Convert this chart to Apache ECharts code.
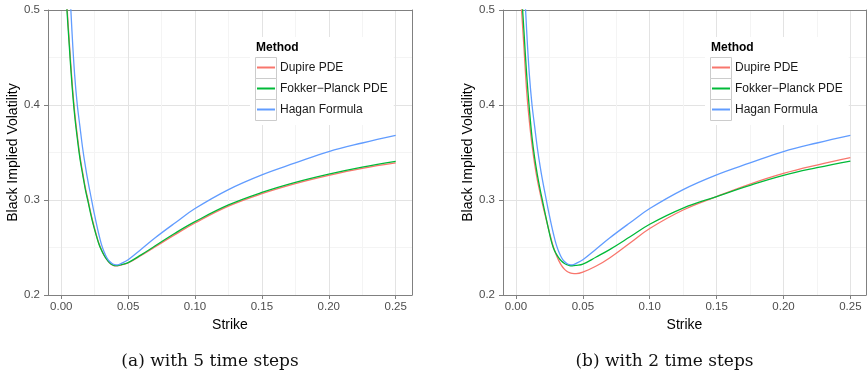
<!DOCTYPE html>
<html><head><meta charset="utf-8">
<script src="https://cdn.jsdelivr.net/npm/echarts@6/dist/echarts.min.js"></script>
<style>html,body{margin:0;padding:0;background:#fff}#c{width:868px;height:377px}</style>
</head><body><div id="c"></div>
<script>
// ---- data ----
const strikes = [0.002, 0.004, 0.006, 0.008, 0.010, 0.012, 0.014, 0.016, 0.018, 0.020, 0.022, 0.024, 0.026, 0.028, 0.030, 0.032, 0.034, 0.036, 0.038, 0.040, 0.042, 0.045, 0.050, 0.060, 0.070, 0.085, 0.100, 0.125, 0.150, 0.175, 0.200, 0.225, 0.250];
const dupire5 = [0.560, 0.511, 0.467, 0.426, 0.393, 0.368, 0.346, 0.329, 0.313, 0.300, 0.287, 0.275, 0.2645, 0.255, 0.2478, 0.2420, 0.2375, 0.2340, 0.2318, 0.2308, 0.2308, 0.2317, 0.2337, 0.2418, 0.2505, 0.2635, 0.2758, 0.2935, 0.3066, 0.3172, 0.3259, 0.3333, 0.3390];
const fokker5 = [0.555, 0.506, 0.4625, 0.422, 0.3895, 0.365, 0.3435, 0.327, 0.3113, 0.2985, 0.2855, 0.2738, 0.2635, 0.2543, 0.2473, 0.2418, 0.2376, 0.2342, 0.2320, 0.2310, 0.2310, 0.2320, 0.2341, 0.2425, 0.2515, 0.2650, 0.2772, 0.2948, 0.3080, 0.3186, 0.3273, 0.3347, 0.3407];
const hagan = [0.680, 0.600, 0.535, 0.478, 0.432, 0.400, 0.377, 0.3545, 0.336, 0.3195, 0.305, 0.2905, 0.2770, 0.2645, 0.2535, 0.2455, 0.2395, 0.2355, 0.2332, 0.2320, 0.2318, 0.2333, 0.2372, 0.2485, 0.2600, 0.2758, 0.2910, 0.3110, 0.3265, 0.3390, 0.3510, 0.3600, 0.3680];
const dupire2 = [0.550, 0.504, 0.460, 0.4145, 0.383, 0.358, 0.3375, 0.3210, 0.3075, 0.2945, 0.283, 0.2715, 0.2605, 0.2505, 0.2425, 0.2362, 0.2312, 0.2275, 0.2250, 0.2235, 0.2227, 0.2224, 0.2240, 0.2305, 0.2390, 0.2545, 0.2700, 0.2895, 0.3036, 0.3168, 0.3280, 0.3368, 0.3445];
const fokker2 = [0.600, 0.525, 0.477, 0.432, 0.396, 0.366, 0.344, 0.3265, 0.3115, 0.298, 0.2845, 0.2715, 0.2590, 0.2495, 0.2435, 0.2390, 0.2357, 0.2334, 0.2319, 0.2310, 0.2308, 0.2312, 0.2325, 0.2400, 0.2478, 0.2610, 0.2745, 0.2915, 0.3036, 0.3155, 0.3260, 0.3340, 0.3410];
const methods = ['Dupire PDE', 'Fokker\u2212Planck PDE', 'Hagan Formula'];
const xTicks = [0, 0.05, 0.10, 0.15, 0.20, 0.25];
const xMinorTicks = [0.025, 0.075, 0.125, 0.175, 0.225];
const yTicks = [0.2, 0.3, 0.4, 0.5];
const captions = ['(a) with 5 time steps', '(b) with 2 time steps'];
const panelData = [[dupire5, fokker5, hagan], [dupire2, fokker2, hagan]];

// ---- styling ----
const colors = ['#F8766D', '#00BA38', '#619CFF'];
const SANS = '"Liberation Sans", Arial, sans-serif';
const BORDER = '#808080', MAJOR = '#e3e3e3', MINOR = '#f4f4f4';
const panels = [
  {left: 48, width: 364, xmin: -0.0099, xmax: 0.2622, legendLeft: 250, capX: 210},
  {left: 503, width: 363, xmin: -0.0097, xmax: 0.2617, legendLeft: 705, capX: 664.5}
];

const grid = [], xAxis = [], yAxis = [], series = [], legend = [], graphic = [];
panels.forEach((p, i) => {
  grid.push({left: p.left, top: 10, width: p.width, height: 285, show: false});
  // minor x axis (top border + minor grid)
  xAxis.push({
    type: 'value', gridIndex: i, position: 'top', min: p.xmin, max: p.xmax,
    minInterval: 0.025, maxInterval: 0.025,
    axisLine: {show: true, lineStyle: {color: BORDER, width: 1}},
    axisTick: {show: false, customValues: xMinorTicks},
    axisLabel: {show: false},
    splitLine: {show: true, lineStyle: {color: MINOR, width: 1}}
  });
  // major x axis
  xAxis.push({
    type: 'value', gridIndex: i, position: 'bottom', min: p.xmin, max: p.xmax,
    minInterval: 0.05, maxInterval: 0.05,
    axisLine: {show: true, onZero: false, lineStyle: {color: BORDER, width: 1}},
    axisTick: {show: true, length: 4, customValues: xTicks, lineStyle: {color: BORDER}},
    axisLabel: {show: true, customValues: xTicks, margin: 6, color: '#4d4d4d', fontSize: 11.5, fontFamily: SANS,
      formatter: v => v.toFixed(2)},
    splitLine: {show: true, lineStyle: {color: MAJOR, width: 1}},
    name: 'Strike', nameLocation: 'middle', nameGap: 20,
    nameTextStyle: {color: '#000', fontSize: 14, fontFamily: SANS}
  });
  yAxis.push({
    type: 'value', gridIndex: i, position: 'left', min: yTicks[0], max: yTicks[yTicks.length - 1], interval: 0.1,
    axisLine: {show: true, onZero: false, lineStyle: {color: BORDER, width: 1}},
    axisTick: {show: true, length: 4, lineStyle: {color: BORDER}},
    axisLabel: {show: true, margin: 8, color: '#4d4d4d', fontSize: 11.5, fontFamily: SANS, formatter: v => v.toFixed(1)},
    splitLine: {show: true, lineStyle: {color: MAJOR, width: 1}},
    minorTick: {show: false, splitNumber: 2},
    minorSplitLine: {show: true, lineStyle: {color: MINOR, width: 1}},
    name: 'Black Implied Volatility', nameLocation: 'middle', nameGap: 26, nameRotate: 90,
    nameTextStyle: {color: '#000', fontSize: 14, fontFamily: SANS}
  });
  yAxis.push({
    type: 'value', gridIndex: i, position: 'right', min: yTicks[0], max: yTicks[yTicks.length - 1], interval: 0.1,
    axisLine: {show: true, onZero: false, lineStyle: {color: BORDER, width: 1}},
    axisTick: {show: false}, axisLabel: {show: false}, splitLine: {show: false}
  });
  panelData[i].forEach((vals, k) => {
    series.push({
      type: 'line', name: methods[k], xAxisIndex: 2 * i + 1, yAxisIndex: 2 * i,
      data: strikes.map((s, j) => [s, vals[j]]),
      showSymbol: false, symbol: 'none', smooth: 0.4, clip: true,
      lineStyle: {width: 1.3, color: colors[k]}, itemStyle: {color: colors[k]},
      emphasis: {disabled: true}, z: 2 + k * 0.01
    });
  });
  legend.push({
    left: p.legendLeft, top: 37, orient: 'vertical', padding: [20, 6, 5, 7],
    backgroundColor: '#ffffff', itemWidth: 18, itemHeight: 2, icon: 'rect', itemGap: 0,
    selectedMode: false, data: methods, z: 4,
    textStyle: {fontSize: 12, lineHeight: 21, color: '#1a1a1a', fontFamily: SANS}
  });
  const off = p.legendLeft - 250;
  methods.forEach((m, k) => {
    graphic.push({type: 'rect', z: 10, silent: true,
      shape: {x: 255.5 + off, y: 57.5 + 21 * k, width: 21, height: 21},
      style: {fill: 'none', stroke: '#cccccc', lineWidth: 1}});
  });
  graphic.push({type: 'text', z: 10, silent: true, x: 256 + off, y: 48,
    style: {text: 'Method', fontSize: 12, fontWeight: 'bold', fontFamily: SANS, fill: '#000', verticalAlign: 'middle'}});
  graphic.push({type: 'text', z: 10, silent: true, x: p.capX, y: 362,
    style: {text: captions[i], fontSize: 17, fontFamily: '"DejaVu Serif", serif', fill: '#111', align: 'center', verticalAlign: 'middle'}});
});

const chart = echarts.init(document.getElementById('c'), null, {renderer: 'canvas'});
chart.setOption({animation: false, grid, xAxis, yAxis, series, legend, graphic});
</script>
</body></html>
